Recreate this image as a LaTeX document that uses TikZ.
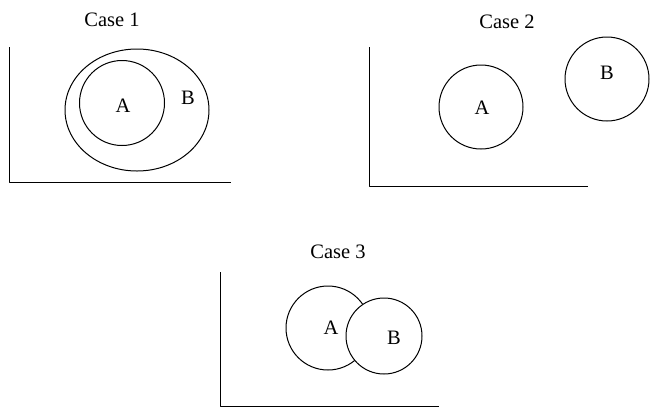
\documentclass[tikz,border=0pt]{standalone}
\usepackage{fontspec}
\setmainfont{Liberation Serif}
\usetikzlibrary{positioning}

\begin{document}
\begin{tikzpicture}[x=1pt, y=-1pt, line width=1pt, line join=round,
    every node/.style={font=\fontsize{20.5}{22}\selectfont, inner sep=0pt}]
    \useasboundingbox (0,0) rectangle (666,408);

    % Case 1
    \coordinate (O1) at (9,182);
    \draw (9,47) -- (O1) -- (231,182);
    \draw (137,110) ellipse [x radius=72, y radius=61];
    \draw (122,103) circle (42.5);
    \node (case1) at (112,20) {Case 1};
    \node (a1) at (123,106) {A};
    \node (b1) at (188,98) {B};

    % Case 2
    \coordinate (O2) at (369,186);
    \draw (369,47) -- (O2) -- (588,186);
    \draw (481,107) circle (42);
    \draw (607,79) circle (42);
    \node (case2) at (507,22) {Case 2};
    \node (a2) at (482,108) {A};
    \node (b2) at (607,73) {B};

    % Case 3
    \coordinate (O3) at (220,406);
    \draw (220,272) -- (O3) -- (439,406);
    \draw (328,328) circle (42);
    \draw[fill=white] (384,336) circle (38);
    \node (case3) at (338,252) {Case 3};
    \node (a3) at (331,328) {A};
    \node (b3) at (394,338) {B};
\end{tikzpicture}
\end{document}
